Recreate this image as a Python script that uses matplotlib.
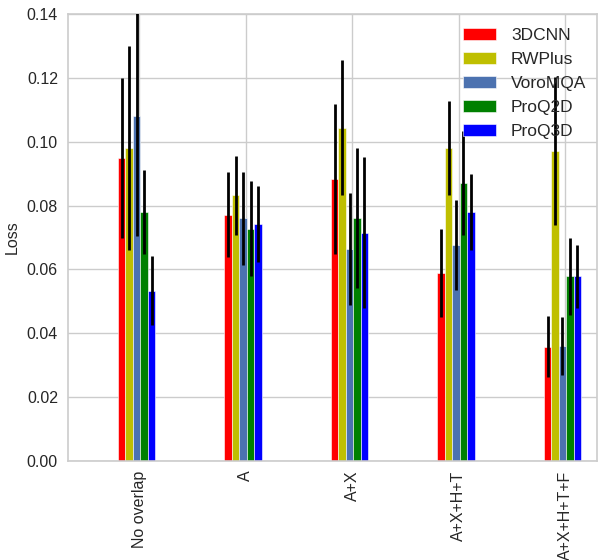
import numpy as np
import matplotlib
matplotlib.use("Agg")
import matplotlib.pyplot as plt

plt.rcParams['font.family'] = ['Liberation Sans', 'DejaVu Sans']

categories = ["No overlap", "A", "A+X", "A+X+H+T", "A+X+H+T+F"]
methods = ["3DCNN", "RWPlus", "VoroMQA", "ProQ2D", "ProQ3D"]
colors = ["#ff0000", "#bfbf00", "#4c72b0", "#008000", "#0000ff"]

cnn3d = [0.0948, 0.0772, 0.0883, 0.0589, 0.0358]
rwplus = [0.0980, 0.0832, 0.1044, 0.0979, 0.0971]
voromqa = [0.1080, 0.0760, 0.0665, 0.0675, 0.0360]
proq2d = [0.0780, 0.0728, 0.0761, 0.0872, 0.0578]
proq3d = [0.0533, 0.0742, 0.0715, 0.0780, 0.0578]

cnn3d_err = [0.0250, 0.0132, 0.0235, 0.0137, 0.0096]
rwplus_err = [0.0320, 0.0123, 0.0211, 0.0147, 0.0233]
voromqa_err = [0.0375, 0.0146, 0.0175, 0.0141, 0.0092]
proq2d_err = [0.0132, 0.0148, 0.0220, 0.0163, 0.0121]
proq3d_err = [0.0108, 0.0118, 0.0237, 0.0120, 0.0100]

values = [cnn3d, rwplus, voromqa, proq2d, proq3d]
errors = [cnn3d_err, rwplus_err, voromqa_err, proq2d_err, proq3d_err]

fig = plt.figure(figsize=(6, 5.6), dpi=100)
ax = fig.add_axes([0.1128, 0.1768, 0.995 - 0.1128, 0.975 - 0.1768])

ind = np.arange(len(categories))
width = 0.07
for i, (m, v, e, c) in enumerate(zip(methods, values, errors, colors)):
    ax.bar(ind - 0.2 + i * width, v, width, align='edge', color=c,
           edgecolor='white', linewidth=0.4, label=m, zorder=2)
    ax.errorbar(ind - 0.2 + (i + 0.5) * width, v, yerr=e, fmt='none',
                ecolor='black', elinewidth=2, capsize=0, zorder=3)

ax.set_ylim(0, 0.14)
ax.set_xlim(-0.673, 4.30)
ax.set_yticks(np.arange(0, 0.141, 0.02))
ax.set_yticklabels([f"{t:.2f}" for t in np.arange(0, 0.141, 0.02)])
ax.set_xticks(ind)
ax.set_xticklabels(categories, rotation=90)
ax.tick_params(axis='both', length=0, labelsize=11.5, colors='#262626', pad=7)
ax.set_ylabel("Loss", fontsize=11.5, color='#262626', labelpad=5)
ax.grid(True, color='#cccccc', linewidth=1, zorder=0)
ax.set_axisbelow(True)
for s in ax.spines.values():
    s.set_color('#cccccc')
    s.set_linewidth(1.2)

leg = ax.legend(loc='upper right', bbox_to_anchor=(1.006, 1.0), frameon=False,
                fontsize=12.5, handlelength=1.9, handleheight=0.65,
                labelspacing=0.52, borderaxespad=0.4, handletextpad=0.85)
for t in leg.get_texts():
    t.set_color('#262626')

fig.savefig("out.png", dpi=100)
